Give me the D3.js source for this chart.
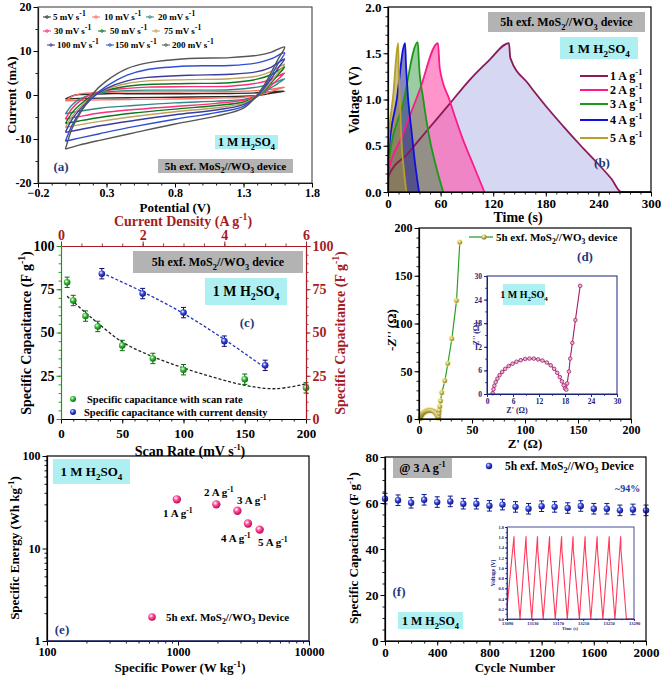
<!DOCTYPE html>
<html><head><meta charset="utf-8">
<script src="https://cdn.jsdelivr.net/npm/d3@7"></script>
<style>
body{margin:0;background:#fff}
svg{display:block}
text{font-family:"Liberation Serif","Times New Roman",serif;font-weight:bold}
</style>
</head><body>
<svg id="c" width="661" height="675"></svg>
<script>
// ---------------- DATA ----------------
// (a) cyclic voltammetry
const cvRates = ["5","10","20","30","50","75","100","150","200"];
const cvFwdE = [0,0.05,0.1,0.2,0.3,0.45,0.6,0.9,1.2,1.4,1.5,1.6];
const cvRevE = [1.6,1.55,1.5,1.45,1.4,1.3,1.1,0.8,0.5,0.25,0.1,0];
const cvFwdI = [
  [-0.9,-0.2,0.1,0.2,0.3,0.3,0.3,0.3,0.35,0.5,0.7,0.9],
  [-1.3,-0.3,0.2,0.5,0.6,0.7,0.7,0.7,0.8,1.0,1.3,1.8],
  [-4.3,-2.2,-1.0,0.2,0.7,1.0,1.1,1.1,1.2,1.8,2.5,3.7],
  [-5.5,-3.0,-1.5,0.3,1.0,1.5,1.8,1.9,2.0,2.7,3.5,5.0],
  [-6.5,-4.0,-2.4,-0.1,1.1,2.0,2.4,2.6,2.8,3.6,4.6,6.4],
  [-7.4,-4.8,-3.0,-0.3,1.3,2.6,3.2,3.5,3.7,4.3,5.3,7.0],
  [-8.5,-5.5,-3.5,-0.5,1.5,3.2,4.0,4.5,4.7,5.3,6.3,8.2],
  [-10.5,-6.8,-4.2,-0.5,2.0,4.5,5.8,6.6,6.7,7.3,8.2,9.6],
  [-12.3,-7.5,-4.5,0.3,3.2,6.0,7.3,8.3,8.5,9.0,9.7,10.9]
];
const cvRevI = [
  [0.9,0.6,0.4,0.1,-0.1,-0.3,-0.4,-0.5,-0.6,-0.7,-0.8,-0.9],
  [1.8,1.3,0.8,0.3,-0.1,-0.5,-0.7,-0.9,-1.0,-1.1,-1.2,-1.3],
  [3.7,2.6,1.6,0.6,-0.2,-1.0,-1.4,-1.8,-2.4,-3.0,-3.7,-4.3],
  [5.0,3.5,2.1,0.8,-0.2,-1.2,-1.9,-2.6,-3.3,-4.1,-4.9,-5.5],
  [6.4,4.5,2.7,1.0,-0.3,-1.6,-2.4,-3.2,-4.1,-5.1,-5.9,-6.5],
  [7.0,5.0,3.0,1.2,-0.3,-1.9,-2.9,-3.8,-4.9,-6.0,-6.8,-7.4],
  [8.2,6.0,3.6,1.5,-0.3,-2.2,-3.4,-4.5,-5.8,-7.0,-7.9,-8.5],
  [9.6,7.0,4.3,1.8,-0.2,-2.6,-4.0,-5.5,-7.2,-8.8,-9.8,-10.5],
  [10.9,8.0,5.0,2.2,0.0,-3.0,-4.8,-6.6,-8.6,-10.3,-11.4,-12.3]
];
const cvXTicks = [-0.2,0.3,0.8,1.3,1.8];
const cvYTicks = [-20,-10,0,10,20];

// (b) galvanostatic charge-discharge
const gcdLabels = ["1 A g^{-1}","2 A g^{-1}","3 A g^{-1}","4 A g^{-1}","5 A g^{-1}"];
const gcdT1 = [0,0.5,23,45,70,93,115,138,139.5,160,180,200,220,240,255,266,300];
const gcdV1 = [0,0.17,0.42,0.67,0.95,1.21,1.42,1.61,1.45,1.17,0.93,0.71,0.5,0.3,0.14,0,0];
const gcdT2 = [0,0.5,15,36,57,59,70,85,97,110];
const gcdV2 = [0,0.22,0.58,1.1,1.61,1.34,1.0,0.58,0.3,0];
const gcdT3 = [0,0.5,17,34,35.5,40,47.6,55,63];
const gcdV3 = [0,0.3,0.95,1.62,1.36,1.02,0.57,0.27,0];
const gcdT4 = [0,0.5,10,19.5,20.5,23,26.7,31,35.4];
const gcdV4 = [0,0.4,1.0,1.61,1.38,1.0,0.67,0.3,0];
const gcdT5 = [0,0.5,6,11.5,12.3,14,15.3,18,21];
const gcdV5 = [0,0.5,1.05,1.61,1.3,0.9,0.57,0.25,0];
const gcdXTicks = [0,60,120,180,240,300];
const gcdYTicks = [0,0.5,1.0,1.5,2.0];

// (c) specific capacitance
const scanRate = [5,10,20,30,50,75,100,150,200];
const capScan = [79,68.5,59.5,53.5,42.5,35,28.5,23,18];
const scanFitX = [5,20,30,50,75,100,125,150,175,200];
const scanFitY = [71,61.5,55.5,44.5,36,29.5,24,19.5,17.5,20.3];
const curDens = [1,2,3,4,5];
const capCur = [84,72.5,61.5,45,31];
const curFitX = [1,2,3,4,5];
const curFitY = [84.5,73.5,61,46,29.5];
const capErr = 3;

// (d) Nyquist
const eisRe = [1.3,1.5,1.7,2.0,2.4,2.9,3.5,4.2,5.0,5.9,6.8,7.8,8.8,9.8,10.8,11.8,12.8,13.8,14.7,15.5,16.2,16.8,17.3,17.7,18.0,18.3,18.5,18.9,19.2,19.7,20.4,21.5,24.4,27.2,31.0,35.4,38.5];
const eisIm = [0.2,1.2,2.1,3.0,3.9,4.8,5.6,6.4,7.1,7.7,8.2,8.6,8.9,9.0,9.0,8.8,8.5,8.0,7.3,6.4,5.4,4.3,3.2,2.2,1.4,1.1,2.7,5.7,9.0,13.0,18.8,27.5,40,58,84,124,185];

// (e) Ragone
const powerDens = [980,1960,2840,3420,4200];
const energyDens = [34,30,25.6,18.6,16];
const ragoneLabels = ["1 A g^{-1}","2 A g^{-1}","3 A g^{-1}","4 A g^{-1}","5 A g^{-1}"];

// (f) cycling
const cycles = [0,100,200,300,400,500,600,700,800,900,1000,1100,1200,1300,1400,1500,1600,1700,1800,1900,2000];
const capCycle = [61.9,61.2,60.1,61.4,60.4,60.7,59.7,59.7,58.8,59.3,58.3,57.5,58.6,58.3,57.8,58.7,57.5,57.5,56.8,57.2,56.8];
const cycErr = 2.3;
const cycT = [13090,13101,13101.5,13110.5,13120,13120.5,13129,13138,13138.5,13147,13157,13157.5,13166,13176,13176.5,13185,13194,13194.5,13204,13213,13213.5,13222,13232,13232.5,13241,13251,13251.5,13260,13269,13269.5,13278,13290];
const cycV = [0.22,1.62,1.35,0,1.62,1.35,0,1.62,1.35,0,1.62,1.35,0,1.62,1.35,0,1.62,1.35,0,1.62,1.35,0,1.62,1.35,0,1.62,1.35,0,1.62,1.35,0,0];

// ---------------- HELPERS ----------------
const svg = d3.select('#c');
const defs = svg.append('defs');
function ballGrad(id, c, dark){
  const g = defs.append('radialGradient').attr('id',id).attr('cx','38%').attr('cy','35%').attr('r','70%');
  g.append('stop').attr('offset','0%').attr('stop-color','#ffffff');
  g.append('stop').attr('offset','40%').attr('stop-color',c);
  g.append('stop').attr('offset','100%').attr('stop-color',dark);
}
ballGrad('gGreen','#3cc03c','#006400');
ballGrad('gBlue','#3a4ee0','#0a0a70');
ballGrad('gPink','#ff4f9a','#b0004a');
ballGrad('gOlive','#d0c060','#807020');

function rich(sel, str, fs, supScale){
  const sc = supScale || 0.7;
  const parts = str.split(/(_\{[^}]*\}|\^\{[^}]*\})/).filter(s=>s.length);
  let shift = 0;
  parts.forEach(p=>{
    let t=p, dy=0, size=fs;
    if(p.startsWith('_{')){t=p.slice(2,-1); size=fs*sc; dy=fs*0.3;}
    else if(p.startsWith('^{')){t=p.slice(2,-1); size=fs*sc; dy=-fs*0.4;}
    sel.append('tspan').attr('dy', dy-shift).style('font-size', size+'px').text(t);
    shift = dy;
  });
  return sel;
}
function label(g, x, y, str, o){
  o = o||{};
  const t = g.append('text').attr('x',x).attr('y',y)
    .attr('text-anchor',o.anchor||'start')
    .attr('fill',o.color||'#000')
    .style('font-size',(o.fs||12)+'px');
  if(o.rotate) t.attr('transform',`rotate(-90,${x},${y})`);
  if(o.italic) t.style('font-style','italic');
  rich(t, str, o.fs||12, o.sup);
  return t;
}
function box(g, x0, y0, x1, y1, fill){
  g.append('rect').attr('x',x0).attr('y',y0).attr('width',x1-x0).attr('height',y1-y0).attr('fill',fill);
}
function drawAxis(g, scale, orient, o){
  const gen = {bottom:d3.axisBottom, top:d3.axisTop, left:d3.axisLeft, right:d3.axisRight}[orient];
  const col = o.color||'#000';
  const tr = (orient==='bottom'||orient==='top') ? `translate(0,${o.pos})` : `translate(${o.pos},0)`;
  if(o.minor){
    const m = g.append('g').attr('transform',tr).call(gen(scale).tickValues(o.minor).tickSize(o.msize||2.5).tickFormat(''));
    m.select('.domain').remove();
    m.selectAll('line').attr('stroke',col).attr('stroke-width',0.9);
  }
  const ax = gen(scale).tickValues(o.major||[]).tickSize(o.size||4.5).tickSizeOuter(0).tickPadding(o.pad||2)
     .tickFormat(o.labels===false?'':(o.fmt||(d=>d)));
  const a = g.append('g').attr('transform',tr).call(ax);
  a.attr('font-family',null).attr('font-size',null);
  a.select('.domain').attr('stroke',col).attr('stroke-width',o.dw||1.2);
  a.selectAll('.tick line').attr('stroke',col).attr('stroke-width',1);
  a.selectAll('text').attr('fill',o.tcolor||'#000').style('font-size',(o.fs||12)+'px');
  return a;
}
function frame(g, xs, ys, col, w){
  const [x0,x1] = xs.range(), [y0,y1] = ys.range();
  g.append('rect').attr('x',Math.min(x0,x1)).attr('y',Math.min(y0,y1))
   .attr('width',Math.abs(x1-x0)).attr('height',Math.abs(y1-y0))
   .attr('fill','none').attr('stroke',col||'#000').attr('stroke-width',w||1.2);
}
const step = (a,b,s)=>d3.range(a,b+s/2,s);

// ---------------- PANEL A ----------------
(function(){
  const g = svg.append('g');
  const x = d3.scaleLinear([-0.2,1.8],[38,312]);
  const y = d3.scaleLinear([-20,20],[183,7]);
  const cvColors = ['#2b2b2b','#ff6f61','#2e8b84','#ff2d7a','#0a7a1e','#c2a060','#3b3b9e','#2f4fd0','#555555'];
  const line = d3.line().x(d=>x(d[0])).y(d=>y(d[1])).curve(d3.curveCatmullRom.alpha(0.5));
  cvRates.forEach((r,i)=>{
    const pts = cvFwdE.map((e,k)=>[e,cvFwdI[i][k]]).concat(cvRevE.map((e,k)=>[e,cvRevI[i][k]]).slice(1));
    g.append('path').attr('d',line(pts)).attr('fill','none').attr('stroke',cvColors[i]).attr('stroke-width',1.4);
  });
  drawAxis(g,x,'bottom',{pos:183,major:cvXTicks,minor:step(-0.2,1.8,0.1),fmt:d3.format('.1f'),fs:12,pad:1});
  drawAxis(g,y,'left',{pos:38,major:cvYTicks,minor:step(-20,20,5),fs:12});
  frame(g,x,y,'#333',1);
  label(g,16,95,'Current (mA)',{anchor:'middle',rotate:true,fs:13});
  label(g,175,212,'Potential (V)',{anchor:'middle',fs:13});
  // legend
  const leg = [[0,43,53],[0,92,104],[0,146,158],[1,43,54],[1,98,110],[1,152,164],[2,47,57],[2,106,115],[2,162,172]];
  const rowsY = [17,31,45];
  cvRates.forEach((r,i)=>{
    const [row,lx,tx] = leg[i];
    const yy = rowsY[row];
    g.append('line').attr('x1',lx).attr('x2',lx+8).attr('y1',yy).attr('y2',yy).attr('stroke',cvColors[i]).attr('stroke-width',1);
    g.append('circle').attr('cx',lx+4).attr('cy',yy).attr('r',1.3).attr('fill','none').attr('stroke',cvColors[i]).attr('stroke-width',0.8);
    label(g,tx,yy+3,r+' mV s^{-1}',{fs:9,sup:0.85});
  });
  box(g,215,135,278,149,'#aef0f2');
  label(g,246.5,146,'1 M H_{2}SO_{4}',{anchor:'middle',fs:12});
  box(g,158,159,293,173,'#b3b3b3');
  label(g,225.5,170,'5h exf. MoS_{2}//WO_{3} device',{anchor:'middle',fs:11});
  label(g,61,171,'(a)',{anchor:'middle',fs:13,color:'#1f3a80'});
})();

// ---------------- PANEL B ----------------
(function(){
  const g = svg.append('g');
  const x = d3.scaleLinear([0,300],[388,651]);
  const y = d3.scaleLinear([0,2],[192,7]);
  const sets = [[gcdT1,gcdV1],[gcdT2,gcdV2],[gcdT3,gcdV3],[gcdT4,gcdV4],[gcdT5,gcdV5]];
  const lineCol = ['#8b1a5a','#ff1a8c','#1a9a1a','#1010dd','#b5a02a'];
  const fillCol = ['#cfd0ee','#ff4fa8','#3a9a4a','#22228a','#a89540'];
  const fillOp = [0.85,0.6,0.5,0.55,0.6];
  const line = d3.line().x(d=>x(d[0])).y(d=>y(d[1])).curve(d3.curveMonotoneX);
  const areaC = d3.area().x(d=>x(d[0])).y0(y(0)).y1(d=>y(d[1])).curve(d3.curveMonotoneX);
  sets.forEach((s,i)=>{
    const pts = s[0].map((t,k)=>[t,s[1][k]]);
    g.append('path').attr('d',areaC(pts)).attr('fill',fillCol[i]).attr('fill-opacity',fillOp[i]);
  });
  sets.forEach((s,i)=>{
    const pts = s[0].map((t,k)=>[t,s[1][k]]);
    g.append('path').attr('d',line(pts)).attr('fill','none').attr('stroke',lineCol[i]).attr('stroke-width',1.8);
  });
  drawAxis(g,x,'bottom',{pos:192,major:gcdXTicks,minor:step(0,300,12),fs:13});
  drawAxis(g,y,'left',{pos:388,major:gcdYTicks,minor:step(0,2,0.1),fmt:d3.format('.1f'),fs:13});
  frame(g,x,y,'#000',1.2);
  label(g,359,100,'Voltage (V)',{anchor:'middle',rotate:true,fs:14});
  label(g,518,222,'Time (s)',{anchor:'middle',fs:14});
  box(g,488,12,645,32,'#b3b3b3');
  label(g,566.5,26,'5h exf. MoS_{2}//WO_{3} device',{anchor:'middle',fs:12});
  box(g,560,37,638,59,'#aef0f2');
  label(g,599,53,'1 M H_{2}SO_{4}',{anchor:'middle',fs:13});
  const ly = [76,90,104,120,138];
  gcdLabels.forEach((l,i)=>{
    g.append('line').attr('x1',580).attr('x2',608).attr('y1',ly[i]).attr('y2',ly[i]).attr('stroke',lineCol[i]).attr('stroke-width',2);
    label(g,610,ly[i]+4,l,{fs:12});
  });
  label(g,602,167,'(b)',{anchor:'middle',fs:13,color:'#1f3a80'});
})();

// ---------------- PANEL C ----------------
(function(){
  const g = svg.append('g');
  const x = d3.scaleLinear([0,200],[61,306]);
  const x2 = d3.scaleLinear([0,6],[61,306]);
  const y = d3.scaleLinear([0,100],[419,246]);
  const red = '#a51c24';
  const line = d3.line().curve(d3.curveCatmullRom);
  g.append('path').attr('d',line(scanFitX.map((v,i)=>[x(v),y(scanFitY[i])]))).attr('fill','none')
    .attr('stroke','#222').attr('stroke-width',1.3).attr('stroke-dasharray','3,2');
  g.append('path').attr('d',line(curFitX.map((v,i)=>[x2(v),y(curFitY[i])]))).attr('fill','none')
    .attr('stroke','#2233bb').attr('stroke-width',1.3).attr('stroke-dasharray','3,2');
  function pts(xs, ys, sx, grad, col){
    xs.forEach((v,i)=>{
      const cx = sx(v), cy = y(ys[i]);
      g.append('line').attr('x1',cx).attr('x2',cx).attr('y1',y(ys[i]+capErr)).attr('y2',y(ys[i]-capErr)).attr('stroke',col).attr('stroke-width',1);
      g.append('line').attr('x1',cx-2.5).attr('x2',cx+2.5).attr('y1',y(ys[i]+capErr)).attr('y2',y(ys[i]+capErr)).attr('stroke',col);
      g.append('line').attr('x1',cx-2.5).attr('x2',cx+2.5).attr('y1',y(ys[i]-capErr)).attr('y2',y(ys[i]-capErr)).attr('stroke',col);
      g.append('circle').attr('cx',cx).attr('cy',cy).attr('r',3.3).attr('fill',`url(#${grad})`);
    });
  }
  pts(scanRate,capScan,x,'gGreen','#0a6a0a');
  pts(curDens,capCur,x2,'gBlue','#0a0a70');
  drawAxis(g,x,'bottom',{pos:419,major:[0,50,100,150,200],minor:step(0,200,10),fs:13,pad:5});
  drawAxis(g,y,'left',{pos:61,major:[0,25,50,75,100],minor:step(0,100,5),color:'#1a9a1a',fs:14});
  drawAxis(g,y,'right',{pos:306,major:[0,25,50,75,100],minor:step(0,100,5),color:red,tcolor:red,fs:14});
  drawAxis(g,x2,'top',{pos:246,major:[0,2,4,6],minor:step(0,6,0.5),color:red,tcolor:red,fs:14});
  label(g,31,333,'Specific Capacitance (F g^{-1})',{anchor:'middle',rotate:true,fs:14});
  label(g,345,333,'Specific Capacitance (F g^{-1})',{anchor:'middle',rotate:true,fs:14,color:red});
  label(g,183,226,'Current Density (A g^{-1})',{anchor:'middle',fs:14,color:red});
  label(g,190,456,'Scan Rate (mV s^{-1})',{anchor:'middle',fs:14,sup:0.6});
  box(g,133,251,303,273,'#b3b3b3');
  label(g,218,266,'5h exf. MoS_{2}//WO_{3} device',{anchor:'middle',fs:12});
  box(g,205,278,287,305,'#aef0f2');
  label(g,246,296,'1 M H_{2}SO_{4}',{anchor:'middle',fs:14});
  label(g,247,327,'(c)',{anchor:'middle',fs:13,color:'#1f3a80'});
  g.append('circle').attr('cx',73).attr('cy',399).attr('r',3).attr('fill','url(#gGreen)');
  label(g,87,403,'Specific capacitance with scan rate',{fs:10.5});
  g.append('circle').attr('cx',73).attr('cy',412).attr('r',3).attr('fill','url(#gBlue)');
  label(g,84,416,'Specific capacitance with current density',{fs:10.5});
})();

// ---------------- PANEL D ----------------
(function(){
  const g = svg.append('g');
  const x = d3.scaleLinear([0,200],[419,631]);
  const y = d3.scaleLinear([0,200],[419,228]);
  const line = d3.line().x(d=>x(d[0])).y(d=>y(d[1]));
  const pts = eisRe.map((v,i)=>[v,eisIm[i]]);
  g.append('path').attr('d',line(pts)).attr('fill','none').attr('stroke','#2ca02c').attr('stroke-width',1.2);
  pts.forEach(p=>{
    g.append('circle').attr('cx',x(p[0])).attr('cy',y(p[1])).attr('r',3.2).attr('fill','#eeea90').attr('opacity',0.7);
  });
  pts.forEach(p=>{
    g.append('circle').attr('cx',x(p[0])).attr('cy',y(p[1])).attr('r',2.2).attr('fill','url(#gOlive)');
  });
  drawAxis(g,x,'bottom',{pos:419,major:[0,50,100,150,200],minor:step(0,200,10),fs:12});
  drawAxis(g,y,'left',{pos:419,major:[0,50,100,150,200],minor:step(0,200,10),fs:12});
  frame(g,x,y,'#000',1.2);
  const tz = label(g,396,330,"-",{anchor:'middle',rotate:true,fs:13});
  tz.append('tspan').style('font-style','italic').text("Z''");
  tz.append('tspan').text(' (Ω)');
  label(g,525,448,"Z' (Ω)",{anchor:'middle',fs:13});
  g.append('line').attr('x1',469).attr('x2',493).attr('y1',237).attr('y2',237).attr('stroke','#2ca02c').attr('stroke-width',1.3);
  g.append('circle').attr('cx',484).attr('cy',237).attr('r',2.6).attr('fill','url(#gOlive)');
  label(g,496,241,'5h exf. MoS_{2}//WO_{3} device',{fs:11});
  label(g,585,261,'(d)',{anchor:'middle',fs:13,color:'#1f3a80'});
  // inset
  const xi = d3.scaleLinear([0,30],[487,617]);
  const yi = d3.scaleLinear([0,30],[394,276]);
  g.append('rect').attr('x',487).attr('y',276).attr('width',130).attr('height',118).attr('fill','#fff');
  const ipts = pts.filter(p=>p[1]<=30);
  const li = d3.line().x(d=>xi(d[0])).y(d=>yi(d[1]));
  g.append('path').attr('d',li(ipts)).attr('fill','none').attr('stroke','#a0206a').attr('stroke-width',1.1);
  ipts.forEach(p=>{
    g.append('circle').attr('cx',xi(p[0])).attr('cy',yi(p[1])).attr('r',1.8).attr('fill','#e9b4d4').attr('stroke','#a0206a').attr('stroke-width',0.8);
  });
  const navy = '#1a237e';
  drawAxis(g,xi,'bottom',{pos:394,major:[0,6,12,18,24,30],minor:step(0,30,3),fs:7.5,color:navy,tcolor:navy,size:3,msize:1.8,dw:1});
  drawAxis(g,yi,'left',{pos:487,major:[0,6,12,18,24,30],minor:step(0,30,3),fs:7.5,color:navy,tcolor:navy,size:3,msize:1.8,dw:1});
  frame(g,xi,yi,navy,1);
  const tz2 = label(g,479,335,"-",{anchor:'middle',rotate:true,fs:8,color:navy});
  tz2.append('tspan').style('font-style','italic').text("Z''");
  tz2.append('tspan').text(' (Ω)');
  label(g,517,413,"Z' (Ω)",{anchor:'middle',fs:8,color:navy});
  box(g,503,284,545,305,'#aef0f2');
  label(g,524,298,'1 M H_{2}SO_{4}',{anchor:'middle',fs:10});
})();

// ---------------- PANEL E ----------------
(function(){
  const g = svg.append('g');
  const x = d3.scaleLog([100,10000],[47,309]);
  const y = d3.scaleLog([1,100],[641,456]);
  const xm = [200,300,400,500,600,700,800,900,2000,3000,4000,5000,6000,7000,8000,9000];
  const ym = [2,3,4,5,6,7,8,9,20,30,40,50,60,70,80,90];
  drawAxis(g,x,'bottom',{pos:641,major:[100,1000,10000],minor:xm,fs:12,dw:1.2});
  drawAxis(g,y,'left',{pos:47,major:[1,10,100],minor:ym,fs:12});
  frame(g,x,y,'#000',1.2);
  g.append('line').attr('x1',47).attr('x2',309).attr('y1',641).attr('y2',641).attr('stroke','#2a2aa0').attr('stroke-width',1.2);
  powerDens.forEach((p,i)=>{
    g.append('circle').attr('cx',x(p)).attr('cy',y(energyDens[i])).attr('r',4.2).attr('fill','url(#gPink)');
  });
  const lp = [[163,517],[204,496],[237,504],[221,542],[258,546]];
  ragoneLabels.forEach((l,i)=>label(g,lp[i][0],lp[i][1],l,{fs:11}));
  box(g,53,459,130,484,'#aef0f2');
  label(g,91.5,476,'1 M H_{2}SO_{4}',{anchor:'middle',fs:13});
  g.append('circle').attr('cx',152).attr('cy',617).attr('r',3.8).attr('fill','url(#gPink)');
  label(g,166,621,'5h exf. MoS_{2}//WO_{3} Device',{fs:11});
  label(g,62,634,'(e)',{anchor:'middle',fs:13,color:'#1f3a80'});
  label(g,19,548,'Specific Energy (Wh kg^{-1})',{anchor:'middle',rotate:true,fs:13});
  label(g,180,672,'Specific Power (W kg^{-1})',{anchor:'middle',fs:13});
})();

// ---------------- PANEL F ----------------
(function(){
  const g = svg.append('g');
  const x = d3.scaleLinear([0,2000],[385,646]);
  const y = d3.scaleLinear([0,80],[641,457]);
  const col = '#0a1a90';
  cycles.forEach((c,i)=>{
    const cx = x(c), v = capCycle[i];
    g.append('line').attr('x1',cx).attr('x2',cx).attr('y1',y(v+cycErr)).attr('y2',y(v-cycErr)).attr('stroke',col);
    g.append('line').attr('x1',cx-2.5).attr('x2',cx+2.5).attr('y1',y(v+cycErr)).attr('y2',y(v+cycErr)).attr('stroke',col);
    g.append('line').attr('x1',cx-2.5).attr('x2',cx+2.5).attr('y1',y(v-cycErr)).attr('y2',y(v-cycErr)).attr('stroke',col);
    g.append('circle').attr('cx',cx).attr('cy',y(v)).attr('r',3.2).attr('fill','url(#gBlue)');
  });
  drawAxis(g,x,'bottom',{pos:641,major:[0,400,800,1200,1600,2000],minor:step(0,2000,100),fs:13});
  drawAxis(g,y,'left',{pos:385,major:[0,20,40,60,80],minor:step(0,80,5),fs:13});
  frame(g,x,y,'#000',1.2);
  label(g,358,548,'Specific Capacitance (F g^{-1})',{anchor:'middle',rotate:true,fs:13});
  label(g,515,672,'Cycle Number',{anchor:'middle',fs:13});
  box(g,393,458,452,478,'#b3b3b3');
  label(g,422.5,472,'@ 3 A g^{-1}',{anchor:'middle',fs:12});
  g.append('circle').attr('cx',489).attr('cy',466).attr('r',3.2).attr('fill','url(#gBlue)');
  label(g,505,470,'5h exf. MoS_{2}//WO_{3} Device',{fs:11.5});
  label(g,615,492,'~94%',{fs:10,color:'#1f3a9a'});
  label(g,399,596,'(f)',{anchor:'middle',fs:13,color:'#1f3a80'});
  box(g,398,612,463,629,'#aef0f2');
  label(g,430.5,625,'1 M H_{2}SO_{4}',{anchor:'middle',fs:12});
  // inset
  const xi = d3.scaleLinear([13090,13290],[507,634]);
  const yi = d3.scaleLinear([0,1.8],[619,527]);
  const navy = '#1a237e';
  const li = d3.line().x(d=>xi(d[0])).y(d=>yi(d[1]));
  g.append('path').attr('d',li(cycT.map((t,i)=>[t,cycV[i]]))).attr('fill','none').attr('stroke','#ff3a5a').attr('stroke-width',1.1);
  drawAxis(g,xi,'bottom',{pos:619,major:[13090,13130,13170,13210,13250,13290],minor:step(13090,13290,20),fs:4.5,color:navy,tcolor:navy,size:2,msize:1.2,dw:0.8,pad:1});
  drawAxis(g,yi,'left',{pos:507,major:step(0,1.8,0.2),minor:step(0,1.8,0.1),fmt:d3.format('.1f'),fs:4.5,color:navy,tcolor:navy,size:2,msize:1.2,dw:0.8,pad:1});
  frame(g,xi,yi,navy,0.8);
  label(g,495,573,'Voltage (V)',{anchor:'middle',rotate:true,fs:5.5,color:navy});
  label(g,570,630,'Time (s)',{anchor:'middle',fs:4.5,color:navy});
})();
</script>
</body></html>
